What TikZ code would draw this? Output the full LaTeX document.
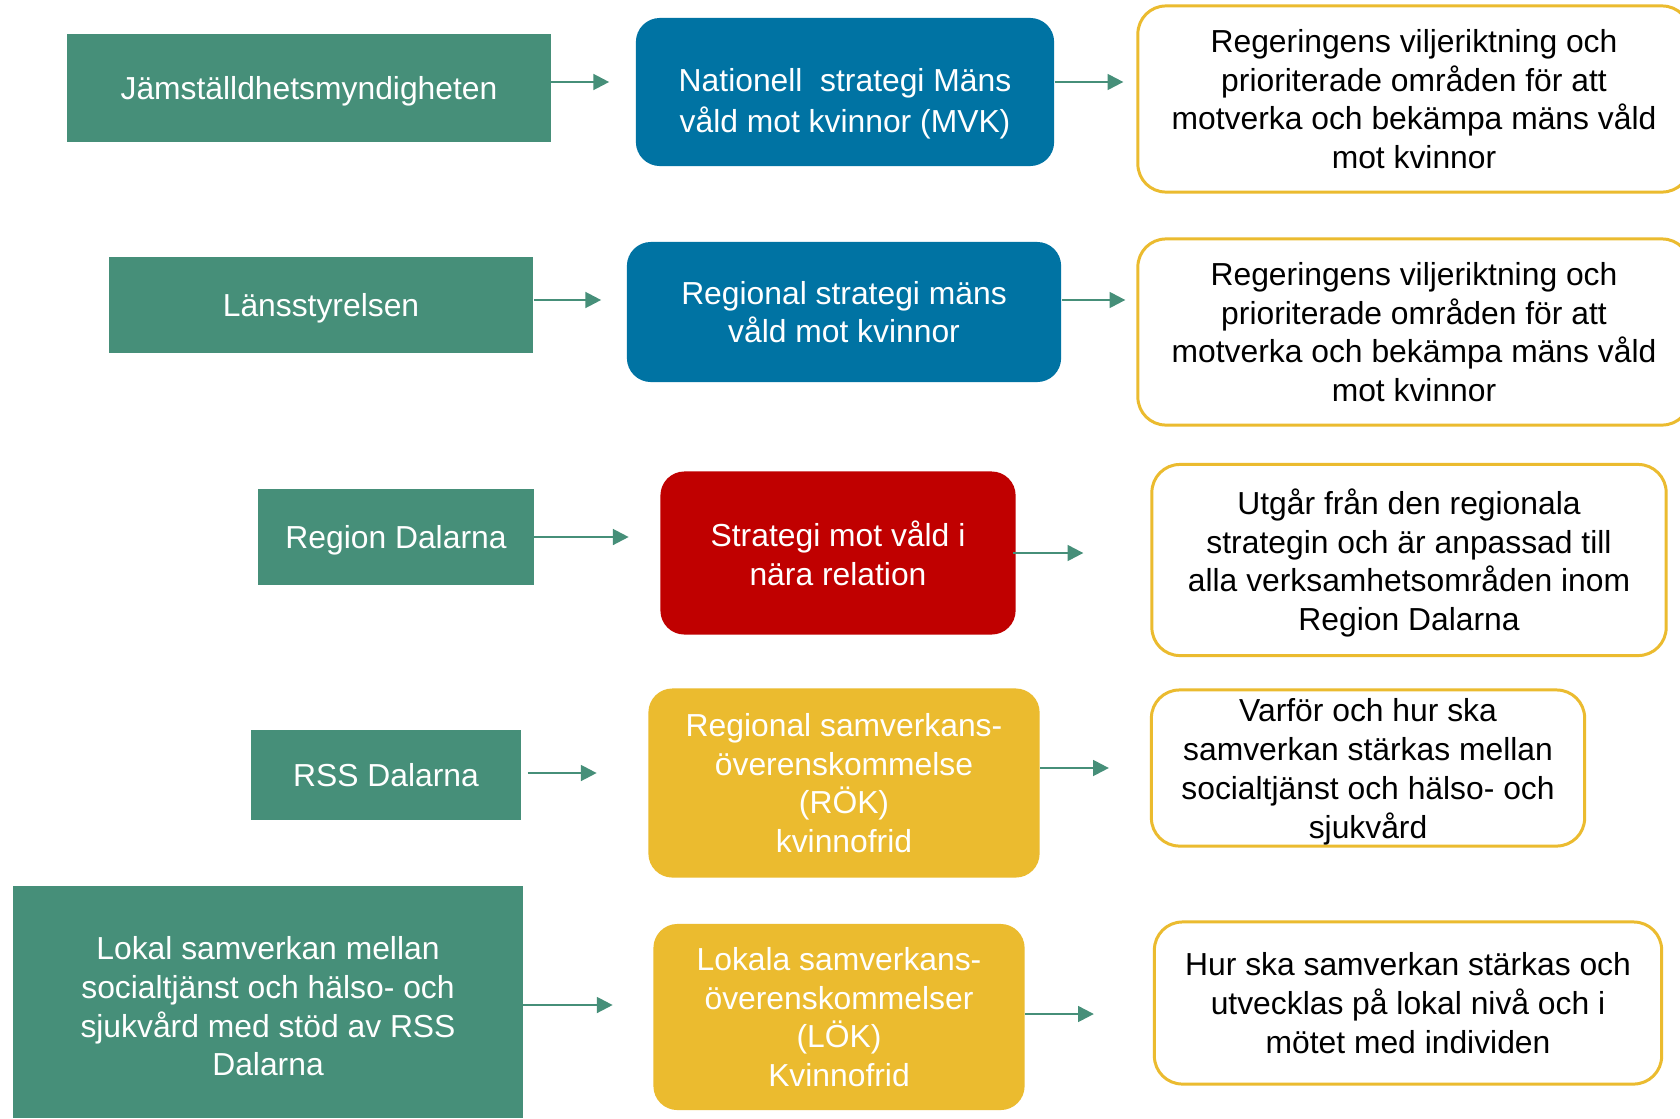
\documentclass[tikz,border=0pt]{standalone}
\usepackage{fontspec}
\setmainfont{Liberation Sans}
\usetikzlibrary{arrows.meta,positioning}
\definecolor{grn}{HTML}{468F79}
\definecolor{blu}{HTML}{0073A3}
\definecolor{rd}{HTML}{C00000}
\definecolor{ylw}{HTML}{EBBB2F}
\tikzset{
  txt/.style={font=\fontsize{9.05}{11}\selectfont, align=center, inner sep=0pt},
  org/.style={txt, fill=grn, text=white},
  plan/.style={txt, fill=#1, text=white, rounded corners=0.24cm},
  note/.style={txt, draw=ylw, line width=0.85pt, fill=white, text=black, rounded corners=0.28cm},
  arr/.style={-{Triangle[length=4.5pt,width=4.5pt]}, grn, line width=0.65pt},
}
\begin{document}
\begin{tikzpicture}[x=0.01cm,y=-0.01cm]
  \clip (0,0) rectangle (1680,1118);
  \fill[white] (0,0) rectangle (1680,1118);
  % row 1
  \node[org, text depth=0pt, minimum width=4.83cm, minimum height=1.08cm] (jam) at (309,88) {Jämställdhetsmyndigheten};
  \node[plan=blu, minimum width=4.18cm, minimum height=1.48cm] (mvk) at (845,92) {\rule{0pt}{13.2pt}Nationell\ \ strategi Mäns\\[0.8pt]våld mot kvinnor (MVK)};
  \node[note, minimum width=5.52cm, minimum height=1.86cm] (reg1) at (1414,99) {Regeringens viljeriktning och\\prioriterade områden för att\\motverka och bekämpa mäns våld\\mot kvinnor};
  % row 2
  \node[org, text depth=0pt, minimum width=4.24cm, minimum height=0.96cm] (lans) at (321,305) {Länsstyrelsen};
  \node[plan=blu, minimum width=4.34cm, minimum height=1.40cm] (rsm) at (844,312) {Regional strategi mäns\\våld mot kvinnor};
  \node[note, minimum width=5.52cm, minimum height=1.86cm] (reg2) at (1414,332) {Regeringens viljeriktning och\\prioriterade områden för att\\motverka och bekämpa mäns våld\\mot kvinnor};
  % row 3
  \node[org, text depth=0pt, minimum width=2.75cm, minimum height=0.95cm] (regd) at (396,537) {Region Dalarna};
  \node[plan=rd, minimum width=3.55cm, minimum height=1.63cm] (vnr) at (838,553) {Strategi mot våld i\\nära relation};
  \node[note, minimum width=5.14cm, minimum height=1.91cm] (utg) at (1409,560) {\rule{0pt}{9pt}Utgår från den regionala\\strategin och är anpassad till\\alla verksamhetsområden inom\\Region Dalarna};
  % row 4
  \node[org, minimum width=2.70cm, minimum height=0.90cm] (rss) at (386,775) {RSS Dalarna};
  \node[plan=ylw, minimum width=3.91cm, minimum height=1.89cm] (rok) at (844,783) {Regional samverkans-\\överenskommelse\\(RÖK)\\kvinnofrid};
  \node[note, minimum width=4.33cm, minimum height=1.56cm] (varf) at (1368,768) {\rule{0pt}{8.7pt}Varför och hur ska\\samverkan stärkas mellan\\socialtjänst och hälso- och\\sjukvård};
  % row 5
  \node[org, minimum width=5.09cm, minimum height=2.31cm] (lok) at (268,1002) {\rule{0pt}{9pt}Lokal samverkan mellan\\socialtjänst och hälso- och\\sjukvård med stöd av RSS\\Dalarna};
  \node[plan=ylw, minimum width=3.71cm, minimum height=1.86cm] (lokal) at (839,1017) {Lokala samverkans-\\överenskommelser\\(LÖK)\\Kvinnofrid};
  \node[note, minimum width=5.07cm, minimum height=1.62cm] (hur) at (1408,1003) {Hur ska samverkan stärkas och\\utvecklas på lokal nivå och i\\mötet med individen};
  % arrows
  \draw[arr, shorten >=0.26cm] ([yshift=0.06cm]jam.east) -- ([yshift=0.06cm]jam.east -| mvk.west);
  \draw[arr, shorten >=0.13cm] ([yshift=0.10cm]mvk.east) -- ([yshift=0.10cm]mvk.east -| reg1.west);
  \draw[arr, shorten >=0.25cm] ([yshift=0.05cm]lans.east) -- ([yshift=0.05cm]lans.east -| rsm.west);
  \draw[arr, shorten >=0.11cm] ([yshift=0.12cm]rsm.east) -- ([yshift=0.12cm]rsm.east -| reg2.west);
  \draw[arr, shorten >=0.31cm] (regd.east) -- (regd.east -| vnr.west);
  \draw[arr, shorten <=-0.03cm, shorten >=0.67cm] (vnr.east) -- (vnr.east -| utg.west);
  \draw[arr, shorten <=0.06cm, shorten >=0.51cm] ([yshift=0.02cm]rss.east) -- ([yshift=0.02cm]rss.east -| rok.west);
  \draw[arr, shorten >=0.41cm] ([yshift=0.15cm]rok.east) -- ([yshift=0.15cm]rok.east -| varf.west);
  \draw[arr, shorten >=0.40cm] ([yshift=-0.03cm]lok.east) -- ([yshift=-0.03cm]lok.east -| lokal.west);
  \draw[arr, shorten >=0.59cm] ([yshift=0.03cm]lokal.east) -- ([yshift=0.03cm]lokal.east -| hur.west);
\end{tikzpicture}
\end{document}
